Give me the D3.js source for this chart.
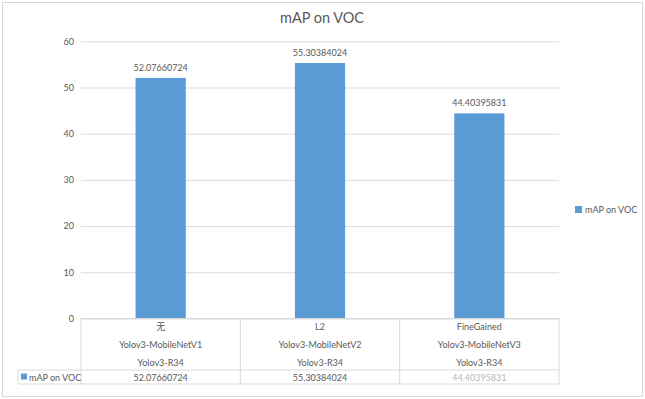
<!DOCTYPE html>
<html>
<head>
<meta charset="utf-8">
<script src="https://cdn.jsdelivr.net/npm/d3@7"></script>
<style>
  body { margin: 0; background: #fff; }
  text { font-family: Lato, "Open Sans", "Noto Sans CJK SC", sans-serif; fill: #595959; }
</style>
</head>
<body>
<div id="chart"></div>
<script>
// chart data
const title = 'mAP on VOC';
const seriesName = 'mAP on VOC';
const rowA = ['无', 'L2', 'FineGained'];
const rowB = ['Yolov3-MobileNetV1', 'Yolov3-MobileNetV2', 'Yolov3-MobileNetV3'];
const rowC = ['Yolov3-R34', 'Yolov3-R34', 'Yolov3-R34'];
const values = [52.07660724, 55.30384024, 44.40395831];
const valueLabels = ['52.07660724', '55.30384024', '44.40395831'];
const yTicks = [0, 10, 20, 30, 40, 50, 60];

const W = 645, H = 399;
const plot = { left: 81, right: 559, top: 41.3, bottom: 318.5 };
const fs = '9px';

const svg = d3.select('#chart').append('svg')
  .attr('width', W)
  .attr('height', H);

// outer frame
svg.append('rect')
  .attr('x', 2.5).attr('y', 2.5)
  .attr('width', W - 5).attr('height', H - 5)
  .attr('fill', '#fff')
  .attr('stroke', '#d9d9d9');

// title
svg.append('text')
  .attr('x', 322).attr('y', 23)
  .attr('text-anchor', 'middle')
  .style('font-size', '14.5px')
  .text(title);

const cats = d3.range(values.length);
const x = d3.scaleBand()
  .domain(cats)
  .range([plot.left, plot.right])
  .paddingInner(0.685)
  .paddingOuter(0.3425);
const xCell = d3.scaleBand().domain(cats).range([plot.left, plot.right]);

const y = d3.scaleLinear().domain([0, 60]).range([plot.bottom, plot.top]);

// gridlines + y axis labels
const yAxis = d3.axisLeft(y)
  .tickValues(yTicks)
  .tickSize(-(plot.right - plot.left))
  .tickPadding(7);
const gy = svg.append('g')
  .attr('transform', `translate(${plot.left},0)`)
  .call(yAxis);
gy.select('.domain').remove();
gy.selectAll('.tick line').attr('stroke', '#d9d9d9');
gy.selectAll('.tick text')
  .style('font-size', fs)
  .attr('fill', '#595959');

// bars
svg.append('g')
  .selectAll('rect')
  .data(values)
  .join('rect')
  .attr('x', (d, i) => x(i))
  .attr('y', d => y(d))
  .attr('width', x.bandwidth())
  .attr('height', d => y(0) - y(d))
  .attr('fill', '#5b9bd5');

// value labels
svg.append('g')
  .selectAll('text')
  .data(values)
  .join('text')
  .attr('x', (d, i) => x(i) + x.bandwidth() / 2)
  .attr('y', d => y(d) - 7)
  .attr('text-anchor', 'middle')
  .style('font-size', fs)
  .text((d, i) => valueLabels[i]);

// data table below the plot
const tableTop = plot.bottom, rowSplit = 370, tableBottom = 384;
const legendCellLeft = 18;
const grid = svg.append('g').attr('stroke', '#d9d9d9').attr('fill', 'none');
grid.append('line').attr('x1', plot.left).attr('x2', plot.right).attr('y1', tableTop).attr('y2', tableTop);
grid.append('line').attr('x1', legendCellLeft).attr('x2', plot.right).attr('y1', rowSplit).attr('y2', rowSplit);
grid.append('line').attr('x1', legendCellLeft).attr('x2', plot.right).attr('y1', tableBottom).attr('y2', tableBottom);
grid.append('line').attr('x1', legendCellLeft).attr('x2', legendCellLeft).attr('y1', rowSplit).attr('y2', tableBottom);
cats.concat([cats.length]).forEach(i => {
  const xx = i < cats.length ? xCell(i) : plot.right;
  grid.append('line').attr('x1', xx).attr('x2', xx).attr('y1', tableTop).attr('y2', tableBottom);
});

const cellText = svg.append('g').style('font-size', fs).attr('text-anchor', 'middle');
[[rowA, 330], [rowB, 348], [rowC, 366]].forEach(([row, yy]) => {
  cellText.selectAll(null)
    .data(row)
    .join('text')
    .attr('x', (d, i) => xCell(i) + xCell.bandwidth() / 2)
    .attr('y', yy)
    .text(d => d);
});
cellText.selectAll(null)
  .data(valueLabels)
  .join('text')
  .attr('x', (d, i) => xCell(i) + xCell.bandwidth() / 2)
  .attr('y', 380.5)
  .attr('opacity', (d, i) => i === 2 ? 0.45 : 1)
  .text(d => d);

// legend key inside the table
svg.append('rect')
  .attr('x', 21).attr('y', 373.5)
  .attr('width', 6).attr('height', 6)
  .attr('fill', '#5b9bd5');
svg.append('text')
  .attr('x', 29).attr('y', 380.5)
  .style('font-size', fs)
  .text(seriesName);

// right legend
svg.append('rect')
  .attr('x', 575).attr('y', 206)
  .attr('width', 7).attr('height', 7)
  .attr('fill', '#5b9bd5');
svg.append('text')
  .attr('x', 585).attr('y', 213)
  .style('font-size', fs)
  .text(seriesName);
</script>
</body>
</html>
